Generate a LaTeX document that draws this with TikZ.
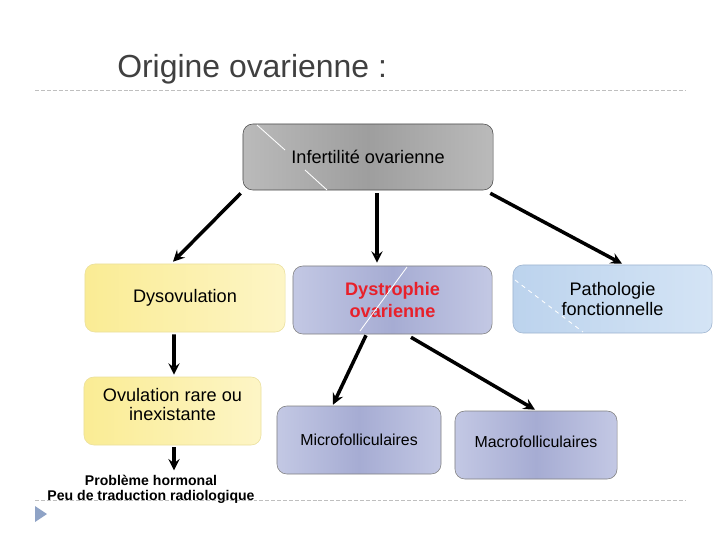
\documentclass[tikz,border=0pt]{standalone}
\usepackage{fontspec}
\setmainfont{Liberation Sans}
\usetikzlibrary{arrows, positioning, calc}
\definecolor{gristitre}{HTML}{404040}
\definecolor{pointille}{HTML}{BFBFBF}
\definecolor{puce}{HTML}{8FA3C6}
\definecolor{jauneA}{HTML}{FAEC94}
\definecolor{jauneB}{HTML}{FDF5C6}
\definecolor{jauneBord}{HTML}{EADF9C}
\definecolor{lavA}{HTML}{A6ACD3}
\definecolor{lavB}{HTML}{C3C8E4}
\definecolor{bleuA}{HTML}{BCD3ED}
\definecolor{bleuB}{HTML}{D4E4F5}
\definecolor{bleuBord}{HTML}{9DB3CF}
\definecolor{rougeTxt}{HTML}{E8202A}

\begin{document}
\begin{tikzpicture}[x=0.025cm, y=-0.025cm]

	\tikzstyle{boite}=[rectangle, rounded corners=7pt, draw, align=center,
	minimum height=1.7cm, font=\fontsize{12.9}{14.5}\selectfont]
	\tikzstyle{gris}=[boite, draw=black!70, left color=black!27, right color=black!27, middle color=black!38]
	\tikzstyle{jaune}=[boite, draw=jauneBord, left color=jauneA, right color=jauneB]
	\tikzstyle{lavande}=[boite, draw=black!50, left color=lavB, right color=lavB, middle color=lavA]
	\tikzstyle{bleu}=[boite, draw=bleuBord, left color=bleuA, right color=bleuB]
	\tikzstyle{reflet}=[white, line width=0.6pt]
	\tikzstyle{fleche}=[-stealth, line width=2.5pt, black]
	\tikzstyle{ligne}=[pointille, line width=0.7pt, dash pattern=on 2.8pt off 1.4pt]

	\useasboundingbox (0,0) rectangle (720,540);

	% titre et lignes
	\node[anchor=west, text=gristitre, font=\fontsize{22.7}{26}\selectfont, inner sep=0pt] (titre) at (117,69) {Origine ovarienne :};
	\draw[ligne] (35,90) -- (685,90);
	\draw[ligne] (35,500) -- (685,500);
	\fill[puce] (35,506) -- (47,514) -- (35,522) -- cycle;

	% placement des noeuds
	\node[gris, minimum width=6.25cm, minimum height=1.65cm] (inf) at (368,157) {Infertilit\'e ovarienne};
	\node[jaune, minimum width=5cm] (dys) at (185,298) {Dysovulation};
	\node[lavande, minimum width=4.975cm, text=rougeTxt, font=\fontsize{12.9}{15}\selectfont\bfseries] (dst) at (392.5,300) {Dystrophie\\ovarienne};
	\node[bleu, minimum width=4.975cm] (pat) at (612.5,299) {Pathologie\\fonctionnelle};
	\node[jaune, minimum width=4.425cm, font=\fontsize{12.9}{13.5}\selectfont] (ovu) at (172.5,411) {Ovulation rare ou\\inexistante\\[-4pt]};
	\node[lavande, minimum width=4.1cm, font=\fontsize{11.3}{13}\selectfont] (mic) at (359,440) {Microfolliculaires};
	\node[lavande, minimum width=4.05cm, font=\fontsize{11.3}{13}\selectfont] (mac) at (536,445) {\\[-9pt]Macrofolliculaires};
	\node[align=center, font=\fontsize{10}{10.7}\selectfont\bfseries] (pb) at (151,489.5) {Probl\`eme hormonal\\Peu de traduction radiologique};

	% reflets
	\draw[reflet] (257,125) -- (285,150);
	\draw[reflet] (305,170) -- (327,190);
	\draw[reflet] (407,267) -- (360,331);
	\draw[reflet, dashed] (515,280) -- (583,332);

	% fleches
	\draw[fleche] ($(inf.south west)+(-2,3)$) -- ($(dys.north)+(-12,-2)$);
	\draw[fleche] ($(inf.south)+(9,3)$) -- ($(dst.north)+(-15.5,-3)$);
	\draw[fleche] ($(inf.south east)+(-3,3)$) -- ($(pat.north)+(9.5,-1)$);
	\draw[fleche] ($(dys.south)+(-11,2)$) -- ($(ovu.north)+(1.5,-2)$);
	\draw[fleche] ($(ovu.south)+(1.5,2)$) -- ($(ovu.south |- pb.north)+(1.5,0)$);
	\draw[fleche] ($(dst.south)+(-26.5,1)$) -- ($(mic.north)+(-26,-1)$);
	\draw[fleche] ($(dst.south)+(18.5,3)$) -- ($(mac.north)+(-1,-1)$);

\end{tikzpicture}
\end{document}
